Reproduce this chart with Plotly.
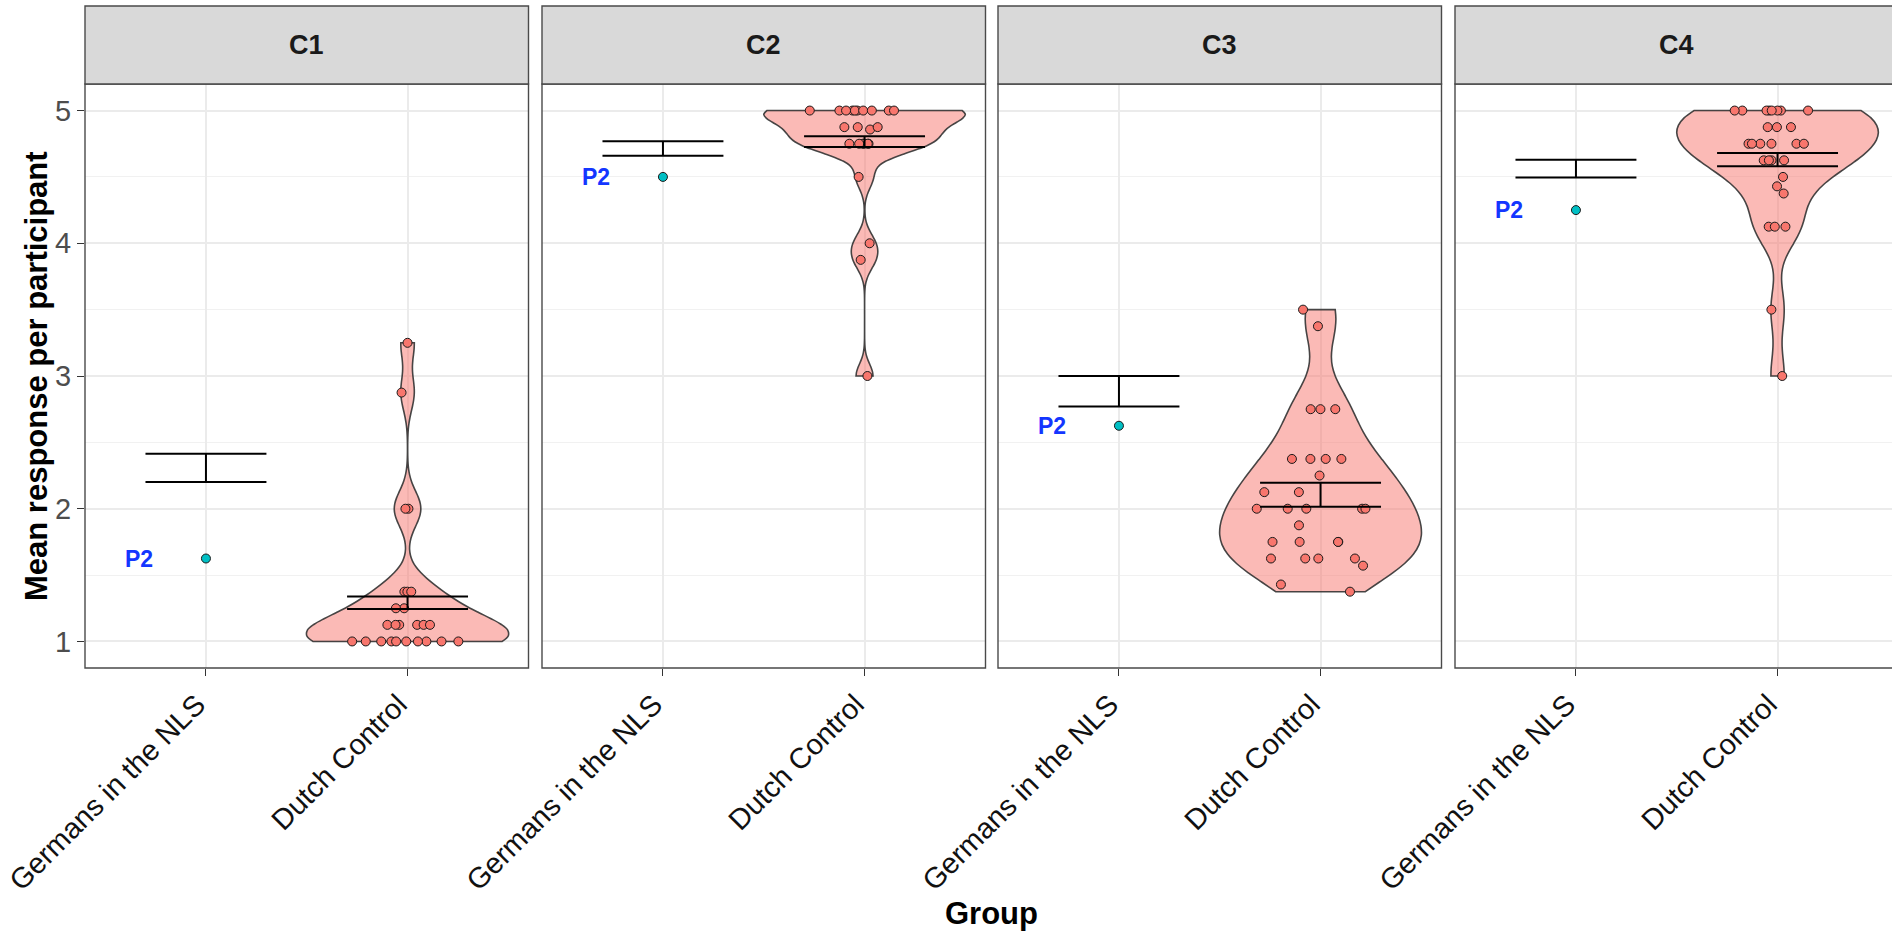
import numpy as np
import plotly.graph_objects as go

# ---------------- data ----------------
facets = ["C1", "C2", "C3", "C4"]
groups = ["Germans in the NLS", "Dutch Control"]

dutch_c1 = [3.25, 2.875, 2.0, 2.0, 1.375, 1.375, 1.375, 1.25, 1.25,
            1.125, 1.125, 1.125, 1.125, 1.125, 1.125,
            1.0, 1.0, 1.0, 1.0, 1.0, 1.0, 1.0, 1.0, 1.0, 1.0]
dutch_c2 = [5.0, 5.0, 5.0, 5.0, 5.0, 5.0, 5.0, 5.0, 5.0, 5.0,
            4.875, 4.875, 4.875, 4.857,
            4.75, 4.75, 4.75, 4.75, 4.75, 4.75,
            4.5, 4.0, 3.875, 3.0]
dutch_c3 = [3.5, 3.375, 2.75, 2.75, 2.75,
            2.375, 2.375, 2.375, 2.375, 2.25, 2.125, 2.125,
            2.0, 2.0, 2.0, 2.0, 2.0, 1.875,
            1.75, 1.75, 1.75, 1.75,
            1.625, 1.625, 1.625, 1.625, 1.571, 1.429, 1.375]
dutch_c4 = [5.0, 5.0, 5.0, 5.0, 5.0, 5.0, 5.0, 5.0,
            4.875, 4.875, 4.875,
            4.75, 4.75, 4.75, 4.75, 4.75, 4.75,
            4.625, 4.625, 4.625, 4.625,
            4.5, 4.429, 4.375, 4.125, 4.125, 4.125, 3.5, 3.0]
dutch_values = [dutch_c1, dutch_c2, dutch_c3, dutch_c4]

p2_values = [1.625, 4.5, 2.625, 4.25]
p2_label = "P2"

german_err_low = [2.201, 4.660, 2.770, 4.496]
german_err_high = [2.414, 4.768, 3.000, 4.629]
dutch_err_low = [1.245, 4.725, 2.015, 4.580]
dutch_err_high = [1.338, 4.807, 2.195, 4.680]

y_ticks = [1, 2, 3, 4, 5]

# ---------------- layout constants ----------------
FIG_W, FIG_H = 1892, 933
PANEL_LEFT = [85, 542, 998, 1455]
PANEL_W = 443.5
PLOT_TOP, PLOT_BOT = 84, 668
STRIP_TOP = 6
X_LO, X_HI = 0.4, 2.6
Y_RANGE = [0.8, 5.2]
ERR_HALF = 0.3
LABEL_NUDGE = -0.33
FONT = "Liberation Sans, Arial, Helvetica, sans-serif"
FILL = "#F8766D"
TEAL = "#00BFC4"


def nrd0(v):
    v = np.asarray(v, dtype=float)
    hi = v.std(ddof=1)
    q75, q25 = np.percentile(v, [75, 25])
    lo = min(hi, (q75 - q25) / 1.34)
    if lo == 0:
        lo = hi if hi > 0 else 1.0
    return 0.9 * lo * len(v) ** -0.2


fig = go.Figure()
shapes = []
annotations = []
ydom = [1 - PLOT_BOT / FIG_H, 1 - PLOT_TOP / FIG_H]

for i, name in enumerate(facets):
    k = "" if i == 0 else str(i + 1)
    xa, ya = "x" + k, "y" + k
    left = PANEL_LEFT[i]
    right_full = left + PANEL_W
    right_vis = min(right_full, FIG_W)
    x_hi_vis = X_LO + (X_HI - X_LO) * (right_vis - left) / PANEL_W

    fig.update_layout(**{
        "xaxis" + k: dict(
            domain=[left / FIG_W, right_vis / FIG_W], range=[X_LO, x_hi_vis],
            type="linear", anchor=ya, tickmode="array", tickvals=[1, 2],
            ticktext=groups, tickangle=-45, ticks="outside", ticklen=7,
            tickwidth=1.3, tickcolor="#333333", automargin=False,
            ticklabelshift=-9,
            tickfont=dict(family=FONT, size=29, color="#111111"),
            showgrid=True, gridcolor="#EBEBEB", gridwidth=1.6,
            zeroline=False, showline=False, fixedrange=True),
        "yaxis" + k: dict(
            domain=ydom, range=Y_RANGE, anchor=xa, tickmode="array",
            tickvals=y_ticks, ticks="outside" if i == 0 else "",
            ticklen=7, tickwidth=1.3, tickcolor="#333333",
            showticklabels=(i == 0), automargin=False,
            tickfont=dict(family=FONT, size=29, color="#4D4D4D"),
            showgrid=True, gridcolor="#EBEBEB", gridwidth=1.6,
            minor=dict(dtick=0.5, tick0=0.5, showgrid=True,
                       gridcolor="#F1F1F1", gridwidth=0.9, ticks=""),
            zeroline=False, showline=False, fixedrange=True),
    })

    vals = dutch_values[i]
    fig.add_trace(go.Violin(
        y=vals, x0=2, width=1.0, spanmode="hard", bandwidth=nrd0(vals),
        scalemode="width", side="both", fillcolor="rgba(248,118,109,0.5)",
        line=dict(color="rgba(51,51,51,0.9)", width=1.6),
        points="all", jitter=0.65, pointpos=0,
        marker=dict(size=9, color=FILL, line=dict(color="#1a1a1a", width=1)),
        box_visible=False, meanline_visible=False,
        xaxis=xa, yaxis=ya, showlegend=False, hoverinfo="y"))

    # Dutch error bar
    c = 2
    lo, hi = dutch_err_low[i], dutch_err_high[i]
    fig.add_trace(go.Scatter(
        x=[c - ERR_HALF, c + ERR_HALF, None, c, c, None, c - ERR_HALF, c + ERR_HALF],
        y=[hi, hi, None, hi, lo, None, lo, lo], mode="lines",
        line=dict(color="black", width=2), xaxis=xa, yaxis=ya,
        showlegend=False, hoverinfo="skip"))
    # German error bar
    c = 1
    lo, hi = german_err_low[i], german_err_high[i]
    fig.add_trace(go.Scatter(
        x=[c - ERR_HALF, c + ERR_HALF, None, c, c, None, c - ERR_HALF, c + ERR_HALF],
        y=[hi, hi, None, hi, lo, None, lo, lo], mode="lines",
        line=dict(color="black", width=2), xaxis=xa, yaxis=ya,
        showlegend=False, hoverinfo="skip"))
    # P2 point
    fig.add_trace(go.Scatter(
        x=[1], y=[p2_values[i]], mode="markers",
        marker=dict(size=9, color=TEAL, line=dict(color="#1a1a1a", width=1)),
        xaxis=xa, yaxis=ya, showlegend=False, hoverinfo="y"))
    annotations.append(dict(
        x=1 + LABEL_NUDGE, y=p2_values[i], xref=xa, yref=ya, text="<b>%s</b>" % p2_label,
        showarrow=False, xanchor="center", yanchor="middle",
        font=dict(family=FONT, size=23, color="#1436FF")))

    # panel border + strip
    x0p, x1p = left / FIG_W, right_full / FIG_W
    shapes.append(dict(type="rect", xref="paper", yref="paper", x0=x0p, x1=x1p,
                       y0=ydom[0], y1=ydom[1], line=dict(color="#4a4a4a", width=1.4),
                       fillcolor="rgba(0,0,0,0)", layer="above"))
    shapes.append(dict(type="rect", xref="paper", yref="paper", x0=x0p, x1=x1p,
                       y0=ydom[1], y1=1 - STRIP_TOP / FIG_H,
                       line=dict(color="#4a4a4a", width=1.4), fillcolor="#D9D9D9",
                       layer="above"))
    annotations.append(dict(
        x=(left + PANEL_W / 2) / FIG_W, y=1 - (STRIP_TOP + PLOT_TOP) / 2 / FIG_H,
        xref="paper", yref="paper", text="<b>%s</b>" % name, showarrow=False,
        xanchor="center", yanchor="middle",
        font=dict(family=FONT, size=27, color="#1A1A1A")))

# axis titles
annotations.append(dict(
    x=(PANEL_LEFT[0] + PANEL_LEFT[-1] + PANEL_W) / 2 / FIG_W, y=1 - 913 / FIG_H,
    xref="paper", yref="paper", text="<b>Group</b>", showarrow=False,
    xanchor="center", yanchor="middle", font=dict(family=FONT, size=31, color="black")))
annotations.append(dict(
    x=36 / FIG_W, y=1 - (PLOT_TOP + PLOT_BOT) / 2 / FIG_H,
    xref="paper", yref="paper", text="<b>Mean response per participant</b>",
    showarrow=False, textangle=-90, xanchor="center", yanchor="middle",
    font=dict(family=FONT, size=31, color="black")))

fig.update_layout(
    width=FIG_W, height=FIG_H,
    margin=dict(l=0, r=0, t=0, b=0, pad=0, autoexpand=False),
    paper_bgcolor="white", plot_bgcolor="white", showlegend=False,
    shapes=shapes, annotations=annotations,
    font=dict(family=FONT))

fig.write_html(
    "out.html",
    config={"displayModeBar": False},
    post_script="document.body.style.margin='0';document.body.style.overflow='hidden';")
